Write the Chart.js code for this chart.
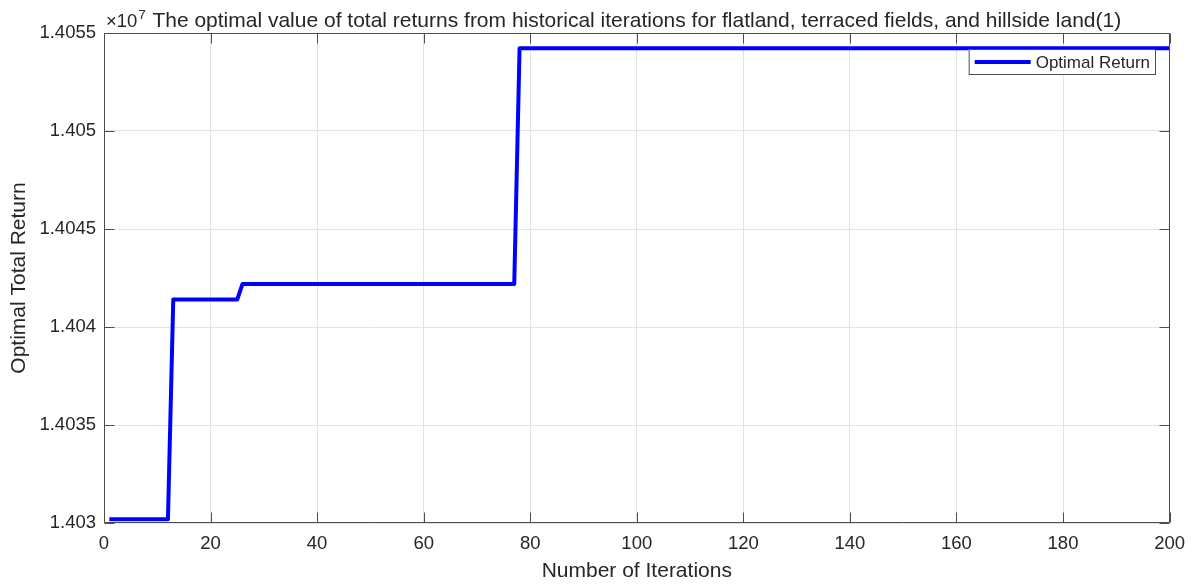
<!DOCTYPE html>
<html>
<head>
<meta charset="utf-8">
<script src="https://cdn.jsdelivr.net/npm/chart.js@4.4.0/dist/chart.umd.min.js"></script>
<style>html,body{margin:0;padding:0;background:#fff;overflow:hidden}</style>
</head>
<body>
<canvas id="c" width="1195" height="585"></canvas>
<script>
// ---- data ----
const iterations    = [1, 12, 13, 25, 26, 77, 78, 200];
const optimalReturn = [14030190, 14030190, 14041400, 14041400, 14042200, 14042200, 14054220, 14054220];
const xTickValues   = [0, 20, 40, 60, 80, 100, 120, 140, 160, 180, 200];
const yTickValues   = [14030000, 14035000, 14040000, 14045000, 14050000, 14055000];
const yTickLabels   = ['1.403', '1.4035', '1.404', '1.4045', '1.405', '1.4055'];
const seriesName    = 'Optimal Return';
const chartTitle    = 'The optimal value of total returns from historical iterations for flatland, terraced fields, and hillside land(1)';
const exponentBase  = '\u00d710';
const exponentPower = '7';
const xAxisTitle    = 'Number of Iterations';
const yAxisTitle    = 'Optimal Total Return';

const FONT = '"Liberation Sans", Arial, Helvetica, sans-serif';
const TEXT = '#262626';
const AXIS = '#4d4d4d';
const LINE = '#0000ff';

Chart.defaults.font.family = FONT;
Chart.defaults.color = TEXT;

const matlabAxes = {
  id: 'matlabAxes',
  afterDatasetsDraw(chart) {
    const {ctx, chartArea: a, scales: {x, y}} = chart;
    ctx.save();
    ctx.strokeStyle = AXIS;
    ctx.lineWidth = 1;
    const L = Math.round(a.left) + 0.5, R = Math.round(a.right) - 0.5;
    const T = Math.round(a.top) + 0.5, B = Math.round(a.bottom) - 0.5;
    ctx.beginPath();
    ctx.rect(L, T, R - L, B - T);
    const tl = 10;
    xTickValues.forEach(v => {
      const px = Math.round(x.getPixelForValue(v)) + 0.5;
      ctx.moveTo(px, B); ctx.lineTo(px, B - tl);
      ctx.moveTo(px, T); ctx.lineTo(px, T + tl);
    });
    yTickValues.forEach(v => {
      const py = Math.round(y.getPixelForValue(v)) + 0.5;
      ctx.moveTo(L, py); ctx.lineTo(L + tl, py);
      ctx.moveTo(R, py); ctx.lineTo(R - tl, py);
    });
    ctx.stroke();

    // legend box (inside axes, top-right)
    ctx.font = '17px ' + FONT;
    const tw = ctx.measureText(seriesName).width;
    const boxR = Math.round(a.right) - 14;
    const boxT = Math.round(a.top) + 16;
    const boxH = 26;
    const textR = boxR - 6;
    const textL = textR - tw;
    const lineE = textL - 5;
    const lineS = lineE - 56;
    const boxL = lineS - 6;
    ctx.fillStyle = '#ffffff';
    ctx.fillRect(boxL, boxT, boxR - boxL, boxH);
    ctx.strokeStyle = AXIS;
    ctx.lineWidth = 1;
    ctx.strokeRect(boxL + 0.5, boxT + 0.5, boxR - boxL - 1, boxH - 1);
    ctx.strokeStyle = LINE;
    ctx.lineWidth = 4;
    ctx.beginPath();
    ctx.moveTo(lineS, boxT + boxH / 2);
    ctx.lineTo(lineE, boxT + boxH / 2);
    ctx.stroke();
    ctx.fillStyle = TEXT;
    ctx.textBaseline = 'middle';
    ctx.textAlign = 'left';
    ctx.fillText(seriesName, textL, boxT + boxH / 2 + 1);
    ctx.restore();
  },
  afterDraw(chart) {
    const {ctx, chartArea: a} = chart;
    ctx.save();
    ctx.fillStyle = TEXT;
    ctx.textBaseline = 'alphabetic';
    // exponent label
    ctx.textAlign = 'left';
    ctx.font = '18.5px ' + FONT;
    const ex = a.left + 2;
    ctx.fillText(exponentBase, ex, 27);
    const bw = ctx.measureText(exponentBase).width;
    ctx.font = '13px ' + FONT;
    ctx.fillText(exponentPower, ex + bw + 1, 19);
    // title
    ctx.font = '21px ' + FONT;
    ctx.textAlign = 'center';
    ctx.fillText(chartTitle, (a.left + a.right) / 2, 27);
    ctx.restore();
  }
};

new Chart(document.getElementById('c'), {
  type: 'line',
  data: {
    datasets: [{
      label: seriesName,
      data: iterations.map((it, i) => ({x: it, y: optimalReturn[i]})),
      borderColor: LINE,
      backgroundColor: LINE,
      borderWidth: 4,
      pointRadius: 0,
      tension: 0,
      fill: false,
      borderJoinStyle: 'round'
    }]
  },
  options: {
    responsive: false,
    devicePixelRatio: 1,
    animation: false,
    layout: {padding: {top: 33, right: 22, left: 0, bottom: 0}},
    plugins: {legend: {display: false}, title: {display: false}, tooltip: {enabled: false}},
    scales: {
      x: {
        type: 'linear', min: 0, max: 200,
        afterBuildTicks: s => { s.ticks = xTickValues.map(v => ({value: v})); },
        afterFit: s => { s.height = 62; },
        grid: {color: '#e3e3e3', drawTicks: false, lineWidth: 1},
        border: {display: false},
        ticks: {autoSkip: false, maxRotation: 0, padding: 10, color: TEXT, font: {size: 18.5}},
        title: {display: true, text: xAxisTitle, color: TEXT, font: {size: 21}, padding: {top: 0, bottom: 1}}
      },
      y: {
        type: 'linear', min: yTickValues[0], max: yTickValues[yTickValues.length - 1],
        afterBuildTicks: s => { s.ticks = yTickValues.map(v => ({value: v})); },
        afterFit: s => { s.width = 104; },
        grid: {color: '#e3e3e3', drawTicks: false, lineWidth: 1},
        border: {display: false},
        ticks: {autoSkip: false, padding: 8, color: TEXT, font: {size: 18.5},
                callback: v => yTickLabels[yTickValues.indexOf(v)]},
        title: {display: true, text: yAxisTitle, color: TEXT, font: {size: 21}, padding: {top: 7, bottom: 0}}
      }
    }
  },
  plugins: [matlabAxes]
});
</script>
</body>
</html>
